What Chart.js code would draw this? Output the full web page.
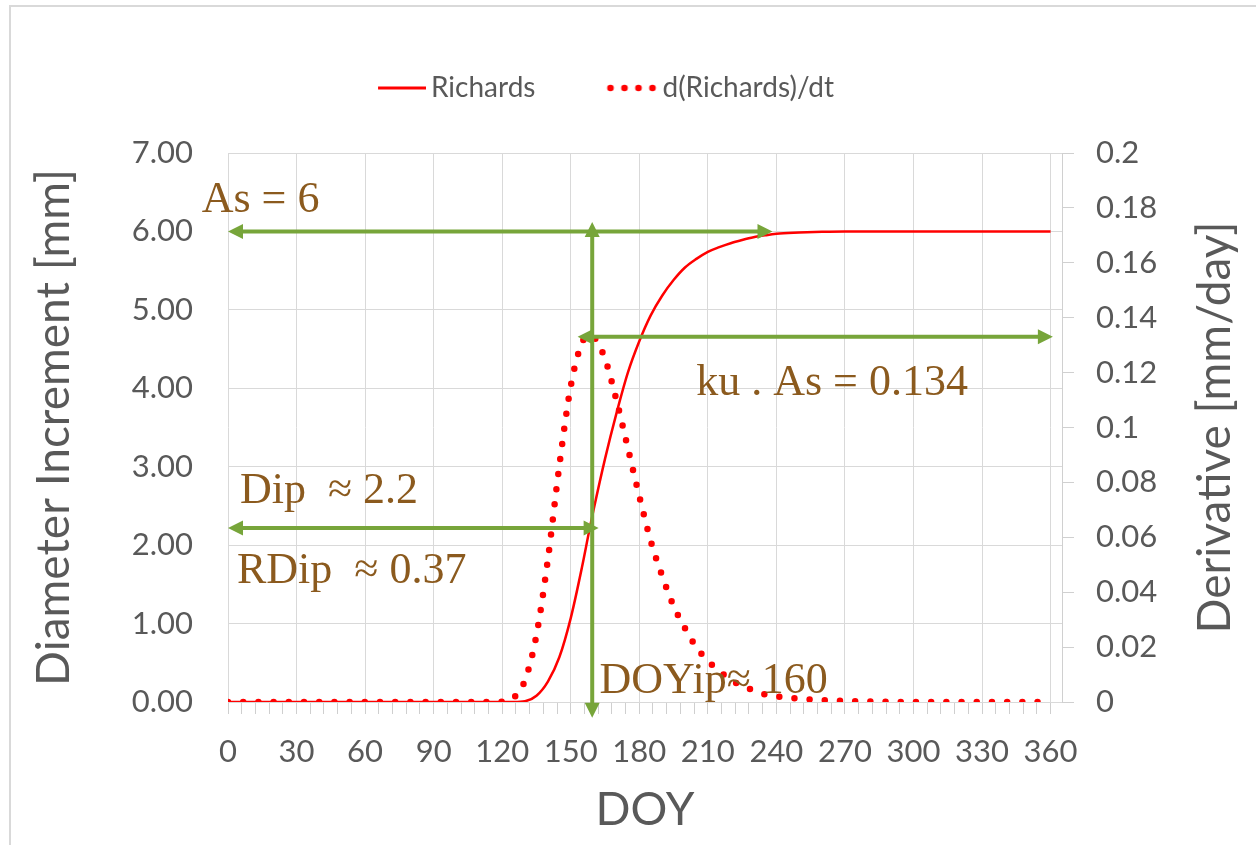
<!DOCTYPE html>
<html>
<head>
<meta charset="utf-8">
<title>Richards</title>
<script src="https://cdn.jsdelivr.net/npm/chart.js@4.4.1/dist/chart.umd.min.js"></script>
<style>
  html, body { margin: 0; padding: 0; background: #fff; }
  canvas { display: block; }
</style>
</head>
<body>
<canvas id="chart" width="1256" height="845"></canvas>
<script>
// day of year for the sampled points
const doy = [0, 10, 20, 30, 40, 50, 60, 70, 80, 90, 100, 110, 120, 125, 130, 135, 140, 145, 150, 155, 158, 160,
  165, 170, 175, 180, 185, 190, 195, 200, 205, 210, 215, 220, 225, 230, 235, 240, 250, 260, 270, 280,
  290, 300, 310, 320, 330, 340, 350, 360];

// Richards curve, diameter increment in mm (left axis)
const richards = [0, 0, 0, 0, 0, 0, 0, 0, 0, 0, 0, 0, 0, 0, 0.01, 0.08, 0.26, 0.57, 1.07, 1.73, 2.17, 2.45,
  3.10, 3.68, 4.20, 4.60, 4.93, 5.18, 5.38, 5.54, 5.65, 5.74, 5.80, 5.85, 5.89, 5.925, 5.95, 5.97, 5.985, 5.995, 6.00, 6.00,
  6.00, 6.00, 6.00, 6.00, 6.00, 6.00, 6.00, 6.00];

// d(Richards)/dt in mm/day (right axis)
const derivative = [0, 0, 0, 0, 0, 0, 0, 0, 0, 0, 0, 0, 0.0001, 0.0015, 0.008, 0.0244, 0.052, 0.086, 0.115, 0.131, 0.1335, 0.133,
  0.125, 0.110, 0.0925, 0.075, 0.0587, 0.046, 0.035, 0.0269, 0.0199, 0.015, 0.0112, 0.0082, 0.0057, 0.0043, 0.0028, 0.0021, 0.0012, 0.0007, 0.0004, 0.0002,
  0.0001, 0, 0, 0, 0, 0, 0, 0];

const seriesNames = ['Richards', 'd(Richards)/dt'];
const xMajorStep = 30;
const xMinorStep = 6;
const xLast = 360;

const GREEN = '#77a53a';
const BROWN = '#8b5a1e';
const GREY = '#595959';
const RED = '#ff0000';
const SANS = 'Lato, "Open Sans", sans-serif';
const SERIF = '"Liberation Serif", "DejaVu Serif", serif';

// green double arrows, in data units (axis = which y scale)
const arrows = [
  { axis: 'y', x1: 0, y1: 6, x2: 238.3, y2: 6 },
  { axis: 'y', x1: 159.4, y1: -0.2, x2: 159.4, y2: 6.12 },
  { axis: 'y2', x1: 153, y1: 0.1331, x2: 361, y2: 0.1331 },
  { axis: 'y', x1: 0, y1: 2.22, x2: 162.2, y2: 2.22 }
];

// brown labels, left edge / baseline in data units of the left axis
const notes = [
  { text: 'As = 6', x: -11.5, y: 6.25 },
  { text: 'ku . As = 0.134', x: 204.9, y: 3.92 },
  { text: 'Dip  \u2248 2.2', x: 5.2, y: 2.54 },
  { text: 'RDip  \u2248 0.37', x: 3.9, y: 1.52 },
  { text: 'DOYip\u2248 160', x: 162.6, y: 0.11 }
];

// legend samples; drawn off-centre so the text sits close to them
function swatch(dotted) {
  const c = document.createElement('canvas');
  c.width = 57; c.height = 10;
  const g = c.getContext('2d');
  g.fillStyle = RED;
  g.strokeStyle = RED;
  if (dotted) {
    [10, 24, 38, 52].forEach(cx => {
      g.beginPath();
      g.arc(cx, 5, 3.3, 0, Math.PI * 2);
      g.fill();
    });
  } else {
    g.lineWidth = 3;
    g.beginPath();
    g.moveTo(9, 5);
    g.lineTo(57, 5);
    g.stroke();
  }
  return c;
}
const swatches = [swatch(false), swatch(true)];

function head(ctx, x, y, ang) {
  ctx.save();
  ctx.translate(x, y);
  ctx.rotate(ang);
  ctx.beginPath();
  ctx.moveTo(0, 0);
  ctx.lineTo(-15, -7.5);
  ctx.lineTo(-15, 7.5);
  ctx.closePath();
  ctx.fill();
  ctx.restore();
}

const annotate = {
  id: 'annotate',
  beforeDraw(chart) {
    const ctx = chart.ctx;
    ctx.save();
    ctx.strokeStyle = '#d9d9d9';
    ctx.lineWidth = 2;
    ctx.beginPath();
    ctx.moveTo(10, chart.height);
    ctx.lineTo(10, 6);
    ctx.lineTo(chart.width, 6);
    ctx.stroke();
    ctx.restore();
  },
  afterDatasetsDraw(chart) {
    const { ctx, scales } = chart;
    const xs = scales.x;
    ctx.save();
    ctx.strokeStyle = GREEN;
    ctx.fillStyle = GREEN;
    ctx.lineWidth = 4;
    arrows.forEach(a => {
      const ys = scales[a.axis];
      const px1 = xs.getPixelForValue(a.x1), py1 = ys.getPixelForValue(a.y1);
      const px2 = xs.getPixelForValue(a.x2), py2 = ys.getPixelForValue(a.y2);
      const ang = Math.atan2(py2 - py1, px2 - px1);
      const dx = Math.cos(ang) * 12, dy = Math.sin(ang) * 12;
      ctx.beginPath();
      ctx.moveTo(px1 + dx, py1 + dy);
      ctx.lineTo(px2 - dx, py2 - dy);
      ctx.stroke();
      head(ctx, px2, py2, ang);
      head(ctx, px1, py1, ang + Math.PI);
    });
    ctx.fillStyle = BROWN;
    ctx.font = '44px ' + SERIF;
    ctx.textAlign = 'left';
    ctx.textBaseline = 'alphabetic';
    notes.forEach(n => {
      ctx.fillText(n.text, xs.getPixelForValue(n.x), scales.y.getPixelForValue(n.y));
    });
    ctx.restore();
  },
  afterDraw(chart) {
    // right axis title reads bottom to top, like the left one
    const { ctx, chartArea } = chart;
    ctx.save();
    ctx.translate(1230, (chartArea.top + chartArea.bottom) / 2);
    ctx.rotate(-Math.PI / 2);
    ctx.fillStyle = GREY;
    ctx.font = '46px ' + SANS;
    ctx.textAlign = 'center';
    ctx.textBaseline = 'alphabetic';
    ctx.fillText('Derivative [mm/day]', 0, 0);
    ctx.restore();
  }
};

new Chart(document.getElementById('chart'), {
  type: 'line',
  data: {
    datasets: [
      {
        label: seriesNames[0],
        data: doy.map((d, i) => ({ x: d, y: richards[i] })),
        yAxisID: 'y',
        borderColor: RED,
        borderWidth: 2.5,
        pointRadius: 0,
        cubicInterpolationMode: 'monotone',
        fill: false
      },
      {
        label: seriesNames[1],
        data: doy.map((d, i) => ({ x: d, y: derivative[i] })),
        yAxisID: 'y2',
        borderColor: RED,
        borderWidth: 6.5,
        borderDash: [0, 15.2],
        borderCapStyle: 'round',
        borderJoinStyle: 'round',
        pointRadius: 0,
        cubicInterpolationMode: 'monotone',
        fill: false
      }
    ]
  },
  options: {
    responsive: false,
    animation: false,
    layout: { padding: { top: 0, left: 0, right: 44, bottom: 0 } },
    plugins: {
      legend: {
        position: 'top',
        weight: 3000,
        labels: {
          usePointStyle: true,
          pointStyleWidth: 39,
          padding: 74,
          color: GREY,
          font: { family: SANS, size: 28 },
          generateLabels: chart => chart.data.datasets.map((ds, i) => ({
            text: ds.label,
            pointStyle: swatches[i],
            fontColor: GREY,
            datasetIndex: i,
            hidden: false,
            lineWidth: 0,
            strokeStyle: 'rgba(0,0,0,0)',
            fillStyle: 'rgba(0,0,0,0)'
          }))
        }
      },
      // empty title used as spacer between legend and plot
      title: { display: true, text: '', font: { size: 10 }, padding: { top: 0, bottom: 29 } },
      tooltip: { enabled: false }
    },
    scales: {
      x: {
        type: 'linear',
        min: 0,
        max: 365,
        afterBuildTicks: s => {
          const t = [];
          for (let v = 0; v <= xLast; v += xMinorStep) t.push({ value: v });
          s.ticks = t;
        },
        afterFit: s => { s.height = 143; },
        ticks: {
          autoSkip: false,
          maxRotation: 0,
          padding: 19,
          color: GREY,
          font: { family: SANS, size: 31 },
          callback: v => (v % xMajorStep === 0 ? String(v) : '')
        },
        grid: {
          color: c => (c.tick && c.tick.value % xMajorStep === 0 ? '#d9d9d9' : 'rgba(0,0,0,0)'),
          tickColor: '#cfcfcf',
          tickLength: 12
        },
        border: { display: true, color: '#d9d9d9' },
        title: {
          display: true,
          text: 'DOY',
          color: GREY,
          font: { family: SANS, size: 46 },
          padding: { top: 0, bottom: 7 }
        }
      },
      y: {
        position: 'left',
        min: 0,
        max: 7,
        afterFit: s => { s.width = 228; },
        ticks: {
          stepSize: 1,
          padding: 35,
          color: GREY,
          font: { family: SANS, size: 31 },
          callback: v => v.toFixed(2)
        },
        grid: { color: '#d9d9d9', drawTicks: false },
        border: { display: false },
        title: {
          display: true,
          text: 'Diameter Increment [mm]',
          color: GREY,
          font: { family: SANS, size: 46 },
          padding: { top: 27, bottom: 0 }
        }
      },
      y2: {
        position: 'right',
        min: 0,
        max: 0.2,
        afterFit: s => { s.width = 150; },
        ticks: {
          stepSize: 0.02,
          padding: 22,
          color: GREY,
          font: { family: SANS, size: 31 },
          callback: v => String(Math.round(v * 100) / 100)
        },
        grid: { drawOnChartArea: false, drawTicks: true, tickLength: 12, color: '#d0d0d0' },
        border: { display: true, color: '#d0d0d0' }
      }
    }
  },
  plugins: [annotate]
});
</script>
</body>
</html>
